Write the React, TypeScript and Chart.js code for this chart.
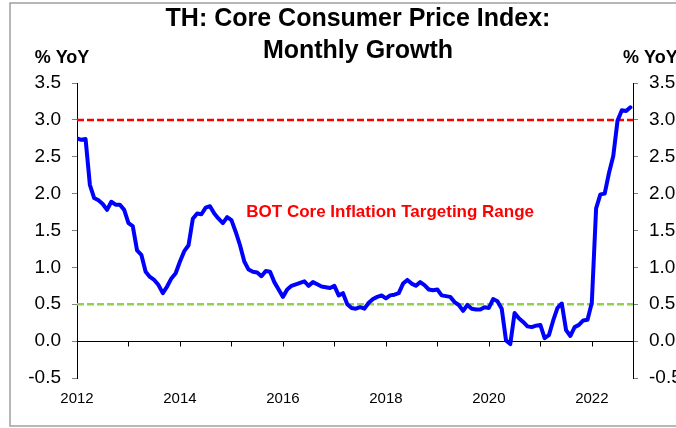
import React, { useEffect, useRef } from 'react';
import { Chart, registerables } from 'chart.js';

Chart.register(...registerables);

const titleLines = ['TH: Core Consumer Price Index:', 'Monthly Growth'];
const unitLabel = '% YoY';
const annotationText = 'BOT Core Inflation Targeting Range';

const startYear = 2012;
const xLabelYears = [2012, 2014, 2016, 2018, 2020, 2022];
const yearTickMonths = [0, 12, 24, 36, 48, 60, 72, 84, 96, 108, 120];
const axisEndMonth = 129.6; // months after Jan 2012 where the axis ends

const core2012 = [2.75, 2.73, 2.74, 2.12, 1.94, 1.91, 1.86, 1.78, 1.89, 1.85, 1.85, 1.78];
const core2013 = [1.60, 1.56, 1.23, 1.17, 0.94, 0.87, 0.83, 0.76, 0.65, 0.74, 0.85, 0.92];
const core2014 = [1.08, 1.22, 1.30, 1.66, 1.73, 1.72, 1.81, 1.83, 1.73, 1.66, 1.60, 1.68];
const core2015 = [1.64, 1.48, 1.30, 1.08, 0.97, 0.94, 0.93, 0.88, 0.95, 0.94, 0.80, 0.70];
const core2016 = [0.60, 0.70, 0.75, 0.77, 0.79, 0.81, 0.75, 0.80, 0.77, 0.74, 0.73, 0.72];
const core2017 = [0.75, 0.62, 0.65, 0.50, 0.45, 0.44, 0.46, 0.44, 0.52, 0.57, 0.60, 0.62];
const core2018 = [0.58, 0.62, 0.63, 0.65, 0.78, 0.83, 0.78, 0.75, 0.80, 0.76, 0.70, 0.69];
const core2019 = [0.70, 0.62, 0.61, 0.60, 0.53, 0.49, 0.41, 0.49, 0.44, 0.43, 0.43, 0.46];
const core2020 = [0.45, 0.57, 0.54, 0.44, 0.01, -0.04, 0.38, 0.31, 0.26, 0.20, 0.19, 0.21];
const core2021 = [0.22, 0.04, 0.08, 0.28, 0.45, 0.51, 0.15, 0.07, 0.19, 0.22, 0.28, 0.29];
const core2022 = [0.52, 1.80, 1.99, 2.00, 2.28, 2.51, 2.99, 3.13, 3.12, 3.17];

const coreCpi = [
  ...core2012, ...core2013, ...core2014, ...core2015, ...core2016, ...core2017,
  ...core2018, ...core2019, ...core2020, ...core2021, ...core2022,
];

const targetUpper = 3.0;
const targetLower = 0.5;
const zeroLine = 0;
const annotationAt = { month: 73, value: 1.75 };

const yMin = -0.5;
const yMax = 3.5;
const yStep = 0.5;

const FONT = '"Liberation Sans", Arial, Helvetica, sans-serif';

const decorPlugin = {
  id: 'decor',
  beforeDraw(chart: any) {
    const ctx = chart.ctx;
    ctx.save();
    ctx.fillStyle = '#ffffff';
    ctx.fillRect(0, 0, chart.width, chart.height);
    ctx.strokeStyle = '#a0a0a0';
    ctx.lineWidth = 1.5;
    ctx.strokeRect(10, 3, 720, 423);
    ctx.restore();
  },
  beforeDatasetsDraw(chart: any) {
    // horizontal axis line drawn at value 0 with yearly tick marks below it
    const ctx = chart.ctx;
    const { x, y } = chart.scales;
    const y0 = Math.round(y.getPixelForValue(zeroLine)) + 0.5;
    ctx.save();
    ctx.strokeStyle = '#000000';
    ctx.lineWidth = 1;
    ctx.beginPath();
    ctx.moveTo(x.getPixelForValue(0), y0);
    ctx.lineTo(x.getPixelForValue(axisEndMonth), y0);
    yearTickMonths.forEach((m) => {
      const px = Math.round(x.getPixelForValue(m)) + 0.5;
      ctx.moveTo(px, y0);
      ctx.lineTo(px, y0 + 5);
    });
    ctx.stroke();
    ctx.restore();
  },
  afterDatasetsDraw(chart: any) {
    const ctx = chart.ctx;
    const { x, y } = chart.scales;
    ctx.save();
    ctx.fillStyle = '#000000';
    ctx.textAlign = 'center';
    ctx.textBaseline = 'middle';
    ctx.font = `bold 25px ${FONT}`;
    ctx.fillText(titleLines[0], 358, 19);
    ctx.fillText(titleLines[1], 358, 51);

    ctx.font = `bold 18px ${FONT}`;
    ctx.fillText(unitLabel, 62, 58);
    ctx.textAlign = 'left';
    ctx.fillText(unitLabel, 623, 58);

    ctx.fillStyle = '#ff0000';
    ctx.textAlign = 'center';
    ctx.font = `bold 17px ${FONT}`;
    ctx.fillText(
      annotationText,
      x.getPixelForValue(annotationAt.month),
      y.getPixelForValue(annotationAt.value)
    );
    ctx.restore();
  },
};

export default function App() {
  const canvasRef = useRef<HTMLCanvasElement | null>(null);

  useEffect(() => {
    document.body.style.margin = '0';
    document.body.style.overflow = 'hidden';
    const canvas = canvasRef.current;
    if (!canvas) return;

    const yTickCfg = (side: 'left' | 'right') => ({
      type: 'linear' as const,
      position: side,
      min: yMin,
      max: yMax,
      ticks: {
        stepSize: yStep,
        padding: 11,
        color: '#000000',
        font: { family: FONT, size: 19 },
        callback: (v: any) => Number(v).toFixed(1),
      },
      grid: { drawOnChartArea: false, color: '#808080', tickLength: 5 },
      border: { color: '#000000', width: 1 },
      afterFit: (s: any) => {
        s.width = side === 'left' ? 77 : 43;
      },
    });

    const chart = new Chart(canvas, {
      type: 'line',
      data: {
        datasets: [
          {
            label: 'Core CPI',
            data: coreCpi.map((v, i) => ({ x: i, y: v })),
            borderColor: '#0000ff',
            borderWidth: 4,
            pointRadius: 0,
            tension: 0,
            borderJoinStyle: 'round',
            borderCapStyle: 'round',
            xAxisID: 'x',
            yAxisID: 'y',
          },
          {
            label: 'Upper target',
            data: [
              { x: 0, y: targetUpper },
              { x: axisEndMonth, y: targetUpper },
            ],
            borderColor: '#ff0000',
            borderWidth: 2.5,
            borderDash: [7, 3],
            pointRadius: 0,
            xAxisID: 'x',
            yAxisID: 'y',
          },
          {
            label: 'Lower target',
            data: [
              { x: 0, y: targetLower },
              { x: axisEndMonth, y: targetLower },
            ],
            borderColor: '#92d050',
            borderWidth: 2.5,
            borderDash: [7, 3],
            pointRadius: 0,
            xAxisID: 'x',
            yAxisID: 'y',
          },
        ],
      },
      options: {
        animation: false,
        responsive: false,
        devicePixelRatio: 1,
        layout: { padding: { top: 83, bottom: 0, left: 0, right: 0 } },
        plugins: {
          legend: { display: false },
          tooltip: { enabled: false },
          title: { display: false },
        },
        scales: {
          x: {
            type: 'linear',
            position: 'bottom',
            min: 0,
            max: axisEndMonth,
            ticks: {
              stepSize: 12,
              autoSkip: false,
              maxRotation: 0,
              minRotation: 0,
              includeBounds: false,
              padding: 12,
              color: '#000000',
              font: { family: FONT, size: 15 },
              callback: (v: any) => {
                const yr = startYear + Math.round(Number(v) / 12);
                return xLabelYears.includes(yr) && Number(v) % 12 === 0 ? String(yr) : '';
              },
            },
            grid: { display: false, drawTicks: false },
            border: { display: false },
            afterFit: (s: any) => {
              s.height = 50;
            },
          },
          y: yTickCfg('left'),
          y2: yTickCfg('right'),
        },
      } as any,
      plugins: [decorPlugin],
    });

    return () => chart.destroy();
  }, []);

  return (
    <div style={{ width: 676, height: 428, overflow: 'hidden' }}>
      <canvas ref={canvasRef} width={676} height={428} style={{ display: 'block' }} />
    </div>
  );
}
